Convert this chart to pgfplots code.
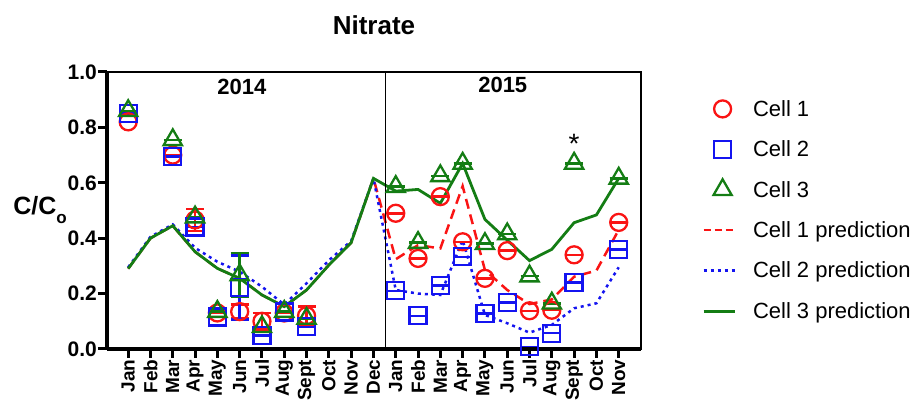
\documentclass[border=0pt]{standalone}
\usepackage{pgfplots}
\pgfplotsset{compat=1.18}
\usepackage{pgfplotstable}
\usepackage{fontspec}
\setmainfont{Liberation Sans}
\definecolor{cred}{RGB}{250,20,20}
\definecolor{cblue}{RGB}{20,20,240}
\definecolor{cgreen}{RGB}{20,125,20}
\pgfplotsset{
  markleg/.style={legend image code/.code={\draw[##1] plot coordinates {(19pt,0pt)}; \path (0pt,0pt) (46pt,0pt);}},
  lineleg/.style={legend image code/.code={\draw[##1] (0pt,0pt) -- (31pt,0pt); \path (0pt,0pt) (46pt,0pt);}},
}

% observations: x index (0 = Jan 2014, 12 = Jan 2015), value, error
\pgfplotstableread{
x y e
0 0.82 0
2 0.70 0
3 0.466 0.04
4 0.13 0
5 0.135 0.025
6 0.10 0.03
7 0.13 0
8 0.12 0.033
12 0.49 0
13 0.327 0
14 0.55 0
15 0.387 0
16 0.255 0
17 0.355 0
18 0.138 0
19 0.14 0
20 0.34 0
22 0.457 0
}\cellone
\pgfplotstableread{
x y e
0 0.85 0
2 0.695 0
3 0.44 0
4 0.116 0
5 0.222 0.115
6 0.049 0
7 0.134 0
8 0.08 0
12 0.21 0
13 0.12 0
14 0.23 0
15 0.333 0
16 0.128 0
17 0.167 0
18 0.008 0
19 0.057 0
20 0.24 0
22 0.36 0
}\celltwo
\pgfplotstableread{
x y e
0 0.86 0
2 0.755 0
3 0.476 0
4 0.135 0
5 0.267 0.08
6 0.08 0
7 0.135 0
8 0.11 0
12 0.586 0
13 0.384 0
14 0.625 0
15 0.67 0
16 0.38 0
17 0.415 0
18 0.263 0
19 0.165 0
20 0.67 0
22 0.616 0
}\cellthree
% predictions
\pgfplotstableread{
x y
0 0.29
1 0.40
2 0.445
3 0.351
4 0.291
5 0.255
6 0.195
7 0.153
8 0.213
9 0.303
10 0.384
11 0.616
12 0.324
13 0.375
14 0.363
15 0.588
16 0.285
17 0.213
18 0.162
19 0.179
20 0.261
21 0.283
22 0.43
}\predone
\pgfplotstableread{
x y
0 0.295
1 0.405
2 0.45
3 0.365
4 0.315
5 0.279
6 0.225
7 0.16
8 0.237
9 0.32
10 0.39
11 0.616
12 0.213
13 0.20
14 0.195
15 0.393
16 0.123
17 0.093
18 0.059
19 0.087
20 0.147
21 0.165
22 0.295
}\predtwo
\pgfplotstableread{
x y
0 0.29
1 0.40
2 0.445
3 0.351
4 0.291
5 0.255
6 0.195
7 0.153
8 0.213
9 0.303
10 0.384
11 0.616
12 0.57
13 0.576
14 0.526
15 0.67
16 0.468
17 0.393
18 0.319
19 0.36
20 0.456
21 0.484
22 0.616
}\predthree

\begin{document}
\begin{tikzpicture}
\useasboundingbox (0,0) rectangle (912pt,403pt);
\begin{axis}[
  at={(107pt,54pt)}, anchor=south west,
  scale only axis, width=534pt, height=277pt,
  xmin=-0.95, xmax=23.0, ymin=0, ymax=1,
  clip=false,
  axis line style={line width=1.2pt},
  xtick={0,...,22},
  xticklabels={Jan,Feb,Mar,Apr,May,Jun,Jul,Aug,Sept,Oct,Nov,Dec,Jan,Feb,Mar,Apr,May,Jun,Jul,Aug,Sept,Oct,Nov},
  ytick={0,0.2,0.4,0.6,0.8,1.0},
  xtick pos=left, ytick pos=left,
  tick align=outside,
  major tick length=9pt,
  every tick/.style={black, line width=3pt},
  /pgf/number format/assume math mode=true,
  y tick label style={/pgf/number format/fixed, /pgf/number format/fixed zerofill, /pgf/number format/precision=1, font=\bfseries\fontsize{21}{21}\selectfont, inner sep=1pt},
  x tick label style={rotate=90, anchor=east, font=\bfseries\fontsize{19}{19}\selectfont, inner sep=1.5pt},
  legend style={at={(rel axis cs:1,1)}, anchor=north west, xshift=58pt, yshift=-24pt,
    draw=none, fill=none, font=\fontsize{22}{22}\selectfont, row sep=19pt,
    nodes={inner sep=2pt}},
  legend cell align=left,
]
% prediction lines
\addplot[forget plot, cred, line width=2.5pt, dash pattern=on 10pt off 6pt] table[x=x,y=y] {\predone};
\addplot[forget plot, cblue, line width=2.5pt, dash pattern=on 3pt off 4pt] table[x=x,y=y] {\predtwo};
\addplot[forget plot, cgreen, line width=2.8pt] table[x=x,y=y] {\predthree};
% observations
\addplot[only marks, cred, mark=o, mark size=8.5pt, line width=2.3pt, markleg,
  error bars/.cd, y dir=both, y explicit,
  error bar style={line width=2.5pt, cred},
  error mark options={rotate=90, mark size=9pt, line width=2.5pt, cred}]
  table[x=x,y=y,y error=e] {\cellone};
\addlegendentry{Cell 1}
\addplot[only marks, cblue, mark=square, mark size=8.5pt, line width=2.3pt, markleg,
  error bars/.cd, y dir=both, y explicit,
  error bar style={line width=2.5pt, cblue},
  error mark options={rotate=90, mark size=9pt, line width=2.5pt, cblue}]
  table[x=x,y=y,y error=e] {\celltwo};
\addlegendentry{Cell 2}
\addplot[only marks, cgreen, mark=triangle, mark size=10.5pt, line width=2.3pt, markleg,
  error bars/.cd, y dir=both, y explicit,
  error bar style={line width=2.5pt, cgreen},
  error mark options={rotate=90, mark size=9pt, line width=2.5pt, cgreen}]
  table[x=x,y=y,y error=e] {\cellthree};
\addlegendentry{Cell 3}
\addlegendimage{cred, line width=2.5pt, dash pattern=on 7pt off 4pt, lineleg}
\addlegendentry{Cell 1 prediction}
\addlegendimage{cblue, line width=2.5pt, dash pattern=on 3pt off 4pt, lineleg}
\addlegendentry{Cell 2 prediction}
\addlegendimage{cgreen, line width=2.8pt, lineleg}
\addlegendentry{Cell 3 prediction}
% frame details
\draw[line width=1.2pt] (axis cs:11.55,0) -- (axis cs:11.55,1);
\draw[line width=3.5pt] (rel axis cs:0,0) -- (rel axis cs:0,1);
\draw[line width=3.5pt] (rel axis cs:0,0) -- (rel axis cs:1,0);
% texts
\node[anchor=base, font=\bfseries\fontsize{22}{22}\selectfont] at (axis cs:5.1,0.917) {2014};
\node[anchor=base, font=\bfseries\fontsize{22}{22}\selectfont] at (axis cs:16.8,0.925) {2015};
\node[anchor=base, font=\fontsize{28}{28}\selectfont] at (axis cs:20,0.705) {*};
\node[anchor=base, font=\bfseries\fontsize{26}{26}\selectfont] at (rel axis cs:0.5,1) [yshift=37pt] {Nitrate};
\node[anchor=base east, font=\bfseries\fontsize{25}{25}\selectfont, inner sep=0pt] at (rel axis cs:0,0.484) [xshift=-40pt] {C/C\raisebox{-9pt}{\fontsize{17}{17}\selectfont o}};
\end{axis}
\end{tikzpicture}
\end{document}
